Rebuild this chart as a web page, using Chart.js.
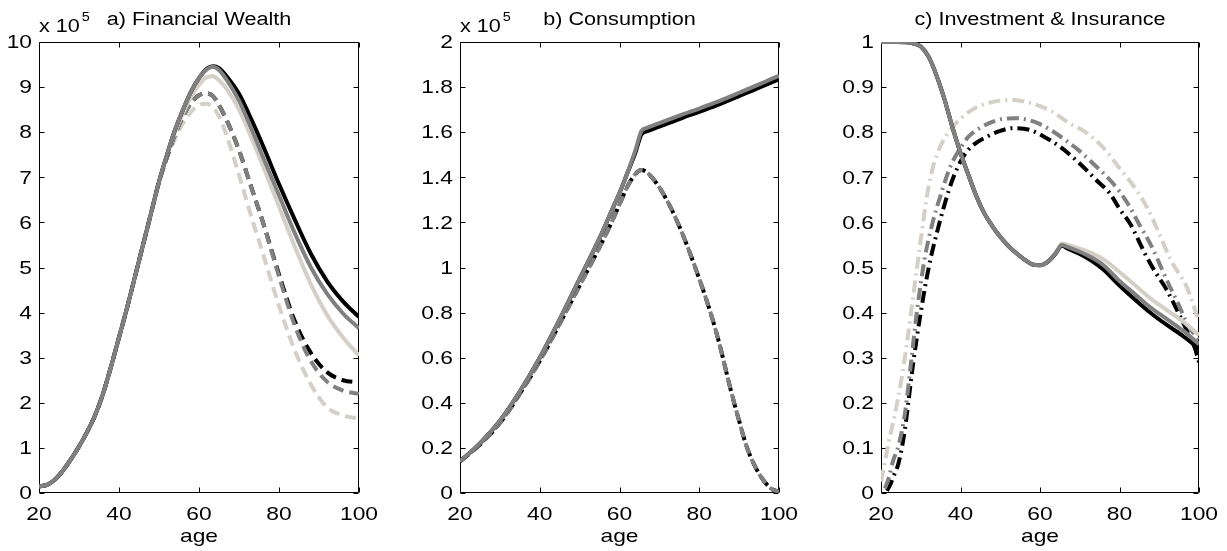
<!DOCTYPE html>
<html><head><meta charset="utf-8">
<script src="https://cdn.jsdelivr.net/npm/chart.js@4.4.1/dist/chart.umd.min.js"></script>
<style>
html,body{margin:0;padding:0;background:#fff;}
body{width:1227px;height:551px;position:relative;overflow:hidden;}
.pane{position:absolute;top:0;height:551px;}
</style></head><body>
<div class="pane" id="pa"><canvas id="ca"></canvas></div>
<div class="pane" id="pb"><canvas id="cb"></canvas></div>
<div class="pane" id="pc"><canvas id="cc"></canvas></div>
<script>
// ---------- data ----------
const ageTicks = [20, 40, 60, 80, 100];
const ageTickLabels = ['20', '40', '60', '80', '100'];

// a) Financial Wealth (x 10^5)
const wealthTicks = [0,1,2,3,4,5,6,7,8,9,10];
const wealthTickLabels = ['0','1','2','3','4','5','6','7','8','9','10'];
const wealthAges = [20,22,24,26,28,30,32,34,36,38,40,42,44,46,48,50,52,54,56,58,60,62,63.5,65,67,70,73,76,80,84,88,92,96,100];
const wealthGraySolid  = [0.15,0.18,0.3,0.5,0.75,1.03,1.35,1.72,2.2,2.8,3.45,4.1,4.8,5.5,6.2,6.9,7.5,8.05,8.5,8.9,9.2,9.4,9.45,9.38,9.15,8.7,8.1,7.45,6.6,5.75,5.0,4.42,3.98,3.65];
const wealthBlackSolid = [0.15,0.18,0.3,0.5,0.75,1.03,1.35,1.72,2.2,2.8,3.45,4.1,4.8,5.5,6.2,6.9,7.5,8.05,8.5,8.9,9.2,9.41,9.46,9.42,9.23,8.85,8.3,7.7,6.85,6.05,5.3,4.7,4.25,3.9];
const wealthLightSolid = [0.15,0.18,0.3,0.5,0.75,1.03,1.35,1.72,2.2,2.8,3.45,4.1,4.8,5.5,6.2,6.9,7.5,8.0,8.42,8.78,9.05,9.22,9.24,9.15,8.95,8.5,7.9,7.25,6.35,5.45,4.62,3.95,3.45,3.05];
const wealthBlackDash  = [0.15,0.18,0.3,0.5,0.75,1.03,1.35,1.72,2.2,2.8,3.45,4.1,4.8,5.5,6.2,6.9,7.45,7.95,8.35,8.65,8.82,8.86,8.8,8.6,8.25,7.6,6.8,6.0,4.85,3.8,3.1,2.68,2.5,2.45];
const wealthGrayDash   = [0.15,0.18,0.3,0.5,0.75,1.03,1.35,1.72,2.2,2.8,3.45,4.1,4.8,5.5,6.2,6.9,7.45,7.95,8.35,8.65,8.82,8.86,8.8,8.6,8.25,7.6,6.8,6.0,4.8,3.7,2.92,2.47,2.27,2.2];
const wealthLightDash  = [0.15,0.18,0.3,0.5,0.75,1.03,1.35,1.72,2.2,2.8,3.45,4.1,4.8,5.5,6.2,6.88,7.42,7.85,8.2,8.45,8.6,8.63,8.55,8.35,7.9,7.05,6.15,5.3,4.15,3.15,2.4,1.9,1.72,1.65];

// b) Consumption (x 10^5)
const consTicks = [0,0.2,0.4,0.6,0.8,1,1.2,1.4,1.6,1.8,2];
const consTickLabels = ['0','0.2','0.4','0.6','0.8','1','1.2','1.4','1.6','1.8','2'];
const consAges = [20,25,30,35,40,45,50,55,58,60,62,64,65.5,67,70,73,76,80,83,85,88,90,92,95,98,100];
const consGraySolid  = [0.14,0.22,0.32,0.45,0.6,0.77,0.95,1.13,1.25,1.33,1.42,1.52,1.605,1.62,1.64,1.66,1.68,1.705,1.725,1.738,1.76,1.775,1.79,1.812,1.835,1.85];
const consBlackSolid = [0.14,0.22,0.32,0.45,0.6,0.77,0.95,1.13,1.25,1.33,1.42,1.51,1.59,1.605,1.625,1.645,1.665,1.69,1.71,1.723,1.745,1.76,1.775,1.797,1.82,1.835];
const consDash       = [0.14,0.215,0.31,0.44,0.585,0.75,0.92,1.09,1.2,1.28,1.36,1.415,1.432,1.42,1.355,1.26,1.14,0.95,0.79,0.665,0.45,0.32,0.2,0.085,0.02,0.005];

// c) Investment & Insurance
const invTicks = [0,0.1,0.2,0.3,0.4,0.5,0.6,0.7,0.8,0.9,1];
const invTickLabels = ['0','0.1','0.2','0.3','0.4','0.5','0.6','0.7','0.8','0.9','1'];
const invAges = [20,24,27,28,30,32,34,36,38,40,42,44,46,48,50,52,54,56,58,60,62,64,65.5,67,70,73,76,80,84,88,92,96,100];
const invGraySolid  = [1,1,0.999,0.997,0.99,0.967,0.925,0.872,0.81,0.754,0.705,0.658,0.62,0.592,0.568,0.548,0.532,0.518,0.507,0.505,0.513,0.532,0.55,0.545,0.535,0.522,0.505,0.47,0.44,0.41,0.385,0.36,0.33];
const invLightSolid = [1,1,0.999,0.997,0.99,0.967,0.925,0.872,0.81,0.754,0.705,0.658,0.62,0.592,0.568,0.548,0.532,0.518,0.507,0.505,0.513,0.532,0.553,0.55,0.542,0.532,0.518,0.49,0.46,0.43,0.405,0.38,0.35];
const invBlackSolid = [1,1,0.999,0.997,0.99,0.967,0.925,0.872,0.81,0.754,0.705,0.658,0.62,0.592,0.568,0.548,0.532,0.518,0.507,0.505,0.513,0.532,0.548,0.542,0.53,0.515,0.495,0.46,0.428,0.398,0.372,0.348,0.32];
const insLightAges = [20,21,22,23.5,25,26.5,28,30,31.5,33,35,37,40,43,46,50,53,56,60,63,67,72,76,80,84,87,90,93,97,100];
const insLight     = [0.025,0.07,0.115,0.175,0.245,0.33,0.43,0.56,0.655,0.72,0.77,0.8,0.83,0.85,0.862,0.87,0.872,0.868,0.858,0.846,0.822,0.797,0.765,0.72,0.675,0.632,0.575,0.515,0.455,0.38];
const insGrayAges = [21,22,23,24.4,26,27.7,29,31,33,35,37.4,40,42,45,48,51,54,57,60,63,66,70,74,78,82,85,88,92,95,97,100];
const insGray     = [0.01,0.035,0.07,0.105,0.175,0.3,0.4,0.52,0.6,0.66,0.723,0.765,0.79,0.81,0.823,0.83,0.831,0.827,0.818,0.803,0.785,0.758,0.725,0.69,0.643,0.595,0.548,0.47,0.415,0.375,0.34];
const insBlackAges = [21.5,22.3,23.3,24.4,26,27,28.1,30,32,34,36,38,40.7,43,46.6,50,53.3,57.5,61,65,70.9,74,77.6,80,82.6,86.8,89,91.9,94.5,96.9,99,100];
const insBlack     = [0.005,0.018,0.04,0.066,0.14,0.21,0.288,0.4,0.5,0.575,0.64,0.695,0.746,0.77,0.79,0.803,0.809,0.805,0.79,0.768,0.723,0.695,0.664,0.63,0.598,0.524,0.49,0.45,0.405,0.361,0.32,0.29];

// ---------- styling ----------
const BLACK = '#000000', GRAY = '#808080', LIGHT = '#d4d0c8';
const LW = 4;
const DASH = [11, 6];
const DASHDOT = [12, 5, 2, 5];
const FONT = '"Liberation Sans", Arial, Helvetica, sans-serif';
const SX = 1.2;   // horizontal stretch of the original figure's text
const PADL = 60, PADR = 30, TOP = 42, BOTTOM = 493, H = 551;

function pts(xs, ys){ return xs.map((x,i)=>({x:x, y:ys[i]})); }
function ds(xs, ys, color, dash, order, offset){
  return {data: pts(xs, ys), borderColor: color, borderWidth: LW, borderDash: dash || [],
          borderDashOffset: offset || 0, pointRadius: 0, fill: false,
          cubicInterpolationMode: 'monotone', borderCapStyle: 'butt', borderJoinStyle: 'round', order: order};
}
function txt(ctx, s, x, y, size, align, base, sx){
  ctx.save();
  ctx.font = size + 'px ' + FONT;
  ctx.fillStyle = '#000';
  ctx.textAlign = align; ctx.textBaseline = base;
  ctx.translate(x, y); ctx.scale(sx || SX, 1);
  ctx.fillText(s, 0, 0);
  ctx.restore();
}

const framePlugin = {
  id: 'matlabFrame',
  beforeDatasetsDraw(chart){
    const {ctx, chartArea:{left,right,top,bottom}, scales:{x,y}} = chart;
    const TL = 5;
    ctx.save();
    ctx.strokeStyle = '#000'; ctx.lineWidth = 1;
    ctx.beginPath();
    const L = Math.round(left)+0.5, R = Math.round(right)-0.5, T = Math.round(top)+0.5, B = Math.round(bottom)-0.5;
    ctx.rect(L, T, R-L, B-T);
    x.ticks.forEach(t=>{
      const p = Math.round(x.getPixelForValue(t.value)) + 0.5;
      ctx.moveTo(p, B); ctx.lineTo(p, B-TL);
      ctx.moveTo(p, T); ctx.lineTo(p, T+TL);
    });
    y.ticks.forEach(t=>{
      const p = Math.round(y.getPixelForValue(t.value)) + 0.5;
      ctx.moveTo(L, p); ctx.lineTo(L+TL, p);
      ctx.moveTo(R, p); ctx.lineTo(R-TL, p);
    });
    ctx.stroke();
    ctx.restore();
  },
  afterDraw(chart){
    const {ctx, chartArea:{left,right,top,bottom}, scales:{x,y}} = chart;
    const o = chart.options.plugins.matlabFrame;
    y.ticks.forEach((t,i)=>{
      txt(ctx, o.yLabels[i], left-7, y.getPixelForValue(t.value)+1, 19, 'right', 'middle');
    });
    x.ticks.forEach((t,i)=>{
      txt(ctx, o.xLabels[i], x.getPixelForValue(t.value), 520, 19, 'center', 'alphabetic');
    });
    const cx = (left+right)/2;
    txt(ctx, 'age', cx, 542, 19, 'center', 'alphabetic');
    txt(ctx, o.title, cx, 25, 18, 'center', 'alphabetic');
    if (o.exp){
      txt(ctx, 'x 10', left, 32, 18, 'left', 'alphabetic');
      ctx.save(); ctx.font = '18px ' + FONT;
      const w = ctx.measureText('x 10').width * SX;
      ctx.restore();
      txt(ctx, '5', left + w + 2, 21, 12, 'left', 'alphabetic');
    }
  }
};

function makeChart(paneId, canvasId, plotLeft, plotRight, yTicks, yLabels, title, exp, datasets){
  const W = (plotRight - plotLeft) + PADL + PADR;
  const pane = document.getElementById(paneId);
  pane.style.left = (plotLeft - PADL) + 'px';
  pane.style.width = W + 'px';
  const cv = document.getElementById(canvasId);
  cv.width = W; cv.height = H;
  cv.style.width = W + 'px'; cv.style.height = H + 'px';
  return new Chart(cv, {
    type: 'line',
    data: {datasets: datasets},
    options: {
      responsive: false, animation: false, devicePixelRatio: 1, events: [],
      layout: {padding: {left: 0, right: PADR, top: TOP, bottom: 0}},
      plugins: {legend: {display: false}, tooltip: {enabled: false}, title: {display: false},
        matlabFrame: {yLabels: yLabels, xLabels: ageTickLabels, title: title, exp: exp}},
      scales: {
        x: {type: 'linear', min: 20, max: 100,
            grid: {display: false}, border: {display: false}, ticks: {display: false},
            afterBuildTicks: s => { s.ticks = ageTicks.map(v => ({value: v})); },
            afterFit: s => { s.height = H - BOTTOM; s.paddingLeft = 0; s.paddingRight = 0; s.paddingTop = 0; s.paddingBottom = 0; }},
        y: {type: 'linear', min: yTicks[0], max: yTicks[yTicks.length-1],
            grid: {display: false}, border: {display: false}, ticks: {display: false},
            afterBuildTicks: s => { s.ticks = yTicks.map(v => ({value: v})); },
            afterFit: s => { s.width = PADL; s.paddingTop = 0; s.paddingBottom = 0; s.paddingLeft = 0; s.paddingRight = 0; }}
      }
    },
    plugins: [framePlugin]
  });
}

makeChart('pa', 'ca', 39, 359, wealthTicks, wealthTickLabels, 'a) Financial Wealth', true, [
  ds(wealthAges, wealthGraySolid,  GRAY,  null, 0),
  ds(wealthAges, wealthBlackSolid, BLACK, null, 1),
  ds(wealthAges, wealthLightSolid, LIGHT, null, 2),
  ds(wealthAges, wealthGrayDash,   GRAY,  DASH, 3),
  ds(wealthAges, wealthBlackDash,  BLACK, DASH, 4),
  ds(wealthAges, wealthLightDash,  LIGHT, DASH, 5)
]);

makeChart('pb', 'cb', 460, 779, consTicks, consTickLabels, 'b) Consumption', true, [
  ds(consAges, consGraySolid,  GRAY,  null, 0),
  ds(consAges, consBlackSolid, BLACK, null, 1),
  ds(consAges, consDash,       GRAY,  DASH, 2, 3),
  ds(consAges, consDash,       BLACK, DASH, 3, 0)
]);

makeChart('pc', 'cc', 881, 1199, invTicks, invTickLabels, 'c) Investment & Insurance', false, [
  ds(invAges, invGraySolid,  GRAY,  null, 0),
  ds(invAges, invBlackSolid, BLACK, null, 1),
  ds(invAges, invLightSolid, LIGHT, null, 2),
  ds(insLightAges, insLight, LIGHT, DASHDOT, 3),
  ds(insGrayAges,  insGray,  GRAY,  DASHDOT, 4),
  ds(insBlackAges, insBlack, BLACK, DASHDOT, 5)
]);
</script>
</body></html>
